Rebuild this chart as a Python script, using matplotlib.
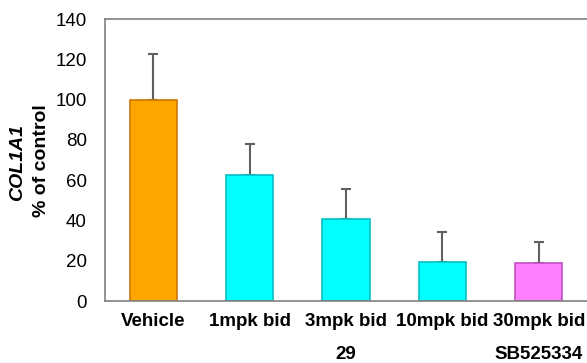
import numpy as np
import matplotlib
matplotlib.use('Agg')
import matplotlib.pyplot as plt

plt.rcParams['font.family'] = ['Liberation Sans', 'DejaVu Sans']

groups = ['Vehicle', '1mpk bid', '3mpk bid', '10mpk bid', '30mpk bid']
compounds = ['', '', '29', '', 'SB525334']
means = [100, 62.4, 40.7, 19.5, 19.0]
errs = [22.8, 15.6, 14.8, 14.9, 10.4]
colors = ['#FFA500', '#00FFFF', '#00FFFF', '#00FFFF', '#FF80FF']
edges = ['#D07800', '#00BFC4', '#00BFC4', '#00BFC4', '#C050C0']
yticks = [0, 20, 40, 60, 80, 100, 120, 140]

fig = plt.figure(figsize=(5.87, 3.63), dpi=100)
ax = fig.add_axes([105/587, 1-301/363, 1-105/587, 282/363])

x = np.arange(len(groups))
ax.bar(x, means, width=0.49, color=colors, edgecolor=edges, linewidth=1.2, zorder=2)
ax.errorbar(x, means, yerr=[np.zeros(len(errs)), errs], fmt='none',
            ecolor='#606060', elinewidth=1.5, capsize=3.5, capthick=1.5, zorder=1)

ax.set_xlim(-0.5, 4.5)
ax.set_ylim(0, 140)
ax.set_yticks(yticks)
ax.set_xticks(x)
ax.set_xticklabels(groups, fontsize=13.5, fontweight='bold')
ax.tick_params(axis='both', length=0, labelsize=13.5)
ax.tick_params(axis='x', pad=9)
ax.tick_params(axis='y', pad=13)

for i, c in enumerate(compounds):
    if c:
        ax.text(x[i], -0.19, c, transform=ax.get_xaxis_transform(), ha='center', va='center',
                fontsize=13.5, fontweight='bold')

for s in ['left', 'top', 'bottom']:
    ax.spines[s].set_color('#808080')
    ax.spines[s].set_linewidth(1.2)
ax.spines['right'].set_visible(False)

fig.text(18/587, 1-162/363, 'COL1A1', rotation=90, ha='center', va='center',
         fontsize=14, fontweight='bold', fontstyle='italic')
fig.text(42/587, 1-161/363, '% of control', rotation=90, ha='center', va='center',
         fontsize=14, fontweight='bold')

fig.savefig('out.png', dpi=100)
